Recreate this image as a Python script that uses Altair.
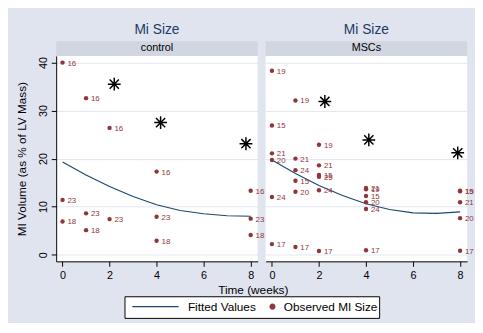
import altair as alt
import pandas as pd

# ---------------- data ----------------
ctrl_week = [0, 0, 0, 1, 1, 1, 2, 2, 4, 4, 4, 8, 8, 8]
ctrl_val = [40.0, 11.4, 6.9, 32.6, 8.6, 5.1, 26.4, 7.4, 17.3, 7.9, 2.9, 13.3, 7.5, 4.1]
ctrl_lab = [16, 23, 18, 16, 23, 18, 16, 23, 16, 23, 18, 16, 23, 18]

msc_week = [0, 0, 0, 0, 0, 0,
            1, 1, 1, 1, 1, 1,
            2, 2, 2, 2, 2, 2,
            4, 4, 4, 4, 4, 4,
            8, 8, 8, 8, 8]
msc_val = [38.3, 26.9, 21.1, 19.7, 12.0, 2.2,
           32.1, 20.0, 17.6, 15.4, 13.1, 1.6,
           22.9, 18.6, 16.6, 16.2, 13.4, 0.75,
           13.9, 13.6, 12.2, 10.9, 9.5, 0.9,
           13.3, 13.2, 10.9, 7.6, 0.8]
msc_lab = [19, 15, 21, 20, 24, 17,
           19, 21, 24, 15, 20, 17,
           19, 21, 15, 25, 24, 17,
           21, 19, 15, 20, 24, 17,
           15, 19, 21, 20, 17]

fit_week = [0, 1, 2, 3, 4, 5, 6, 7, 8]
ctrl_fit = [19.3, 16.6, 14.2, 12.1, 10.4, 9.2, 8.5, 8.1, 8.0]
msc_fit = [19.7, 16.9, 14.4, 12.3, 10.6, 9.4, 8.7, 8.6, 8.9]

ctrl_star_x = [2.2, 4.17, 7.8]
ctrl_star_y = [35.5, 27.5, 23.1]
msc_star_x = [2.25, 4.12, 7.9]
msc_star_y = [31.9, 23.9, 21.2]

series_names = ["Fitted Values", "Observed MI Size"]
panel_title = "Mi Size"
x_ticks = [0, 2, 4, 6, 8]
y_ticks = [0, 10, 20, 30, 40]

# ---------------- style ----------------
BG = "#e0e4ef"
STRIP = "#d1d6e1"
GRID = "#e1e6f0"
RED = "#90353b"
NAVY = "#1a476f"
TITLE_COL = "#1e3a66"
FONT = "Liberation Sans"
W, H = 205, 209
SH = 15  # strip height

STAR = "M0,-1L0,1M-1,0L1,0M-0.72,-0.72L0.72,0.72M-0.72,0.72L0.72,-0.72"
LEG_LINE = "M-18,0L0.8,0"   # legend key for the fitted line (symbol unit = 2.5px)

# legend frame (pixels, relative to the left plot's origin)
BOX_X, BOX_W = 70, 259
BOX_Y, BOX_H = H + 36, 22

color_scale = alt.Scale(domain=series_names, range=[NAVY, RED])
shape_scale = alt.Scale(domain=series_names, range=[LEG_LINE, "circle"])

legend = alt.Legend(
    title=None, orient="none", legendX=BOX_X + 46.5, legendY=BOX_Y + 4,
    direction="horizontal", padding=0,
    labelFontSize=12, labelFont=FONT, labelColor="black",
    symbolSize=25, symbolStrokeWidth=1.2, columnPadding=10.5, labelOffset=5.5,
    symbolOpacity=1,
)


def panel(name, weeks, vals, labs, fit, sx, sy, first):
    pts = pd.DataFrame({"week": weeks, "value": vals,
                        "label": [str(v) for v in labs],
                        "series": series_names[1]})
    fitdf = pd.DataFrame({"week": fit_week, "value": fit,
                          "series": series_names[0]})
    stars = pd.DataFrame({"week": sx, "value": sy})

    x = alt.X("week:Q", scale=alt.Scale(domain=[-0.27, 8.3], nice=False, zero=False),
              axis=alt.Axis(values=x_ticks, grid=False, title="Time (weeks)" if first else None,
                            domainColor="black", tickColor="black", tickSize=5,
                            labelFont=FONT, labelFontSize=11, labelColor="black",
                            labelPadding=3, titleFont=FONT, titleFontSize=12,
                            titleFontWeight="normal", titleColor="black",
                            titleX=200, titlePadding=5, labelFlush=False))
    if first:
        yaxis = alt.Axis(values=y_ticks, grid=True, gridColor=GRID,
                         title="MI  Volume (as % of LV Mass)",
                         domainColor="black", tickColor="black", tickSize=5,
                         labelAngle=270, labelFont=FONT, labelFontSize=11,
                         labelColor="black", labelPadding=3, labelFlush=False,
                         titleFont=FONT, titleFontSize=12, titleFontWeight="normal",
                         titleColor="black", titlePadding=9)
    else:
        yaxis = alt.Axis(values=y_ticks, grid=True, gridColor=GRID, labels=False,
                         ticks=False, domain=False, title=None)
    y = alt.Y("value:Q", scale=alt.Scale(domain=[-1.4, 41.4], nice=False, zero=False),
              axis=yaxis)

    strip_df = pd.DataFrame({"name": [name]})
    strip_bg = alt.Chart(strip_df).mark_rect(color=STRIP).encode(
        x=alt.value(0), x2=alt.value(W), y=alt.value(-SH), y2=alt.value(0))
    strip_tx = alt.Chart(strip_df).mark_text(
        fontSize=11, font=FONT, color="black", baseline="middle").encode(
        x=alt.value(W / 2), y=alt.value(-SH / 2), text="name:N")

    line = alt.Chart(fitdf).mark_line(strokeWidth=1.1).encode(
        x=x, y=y,
        color=alt.Color("series:N", scale=color_scale, legend=legend),
    )
    dots = alt.Chart(pts).mark_point(filled=True, size=20, opacity=1).encode(
        x=x, y=y,
        color=alt.Color("series:N", scale=color_scale, legend=legend),
        shape=alt.Shape("series:N", scale=shape_scale, legend=legend),
    )
    text = alt.Chart(pts).mark_text(align="left", dx=5, dy=1, fontSize=8, font=FONT,
                                    color=RED).encode(x=x, y=y, text="label:N")
    star = alt.Chart(stars).mark_point(shape=STAR, size=169, filled=False,
                                       color="black", strokeWidth=1.5, opacity=1).encode(x=x, y=y)

    layers = [strip_bg, strip_tx, line, dots, text, star]
    if first:
        frame = alt.Chart(strip_df).mark_rect(fill="white", stroke="black", strokeWidth=1).encode(
            x=alt.value(BOX_X), x2=alt.value(BOX_X + BOX_W),
            y=alt.value(BOX_Y), y2=alt.value(BOX_Y + BOX_H))
        layers = [frame] + layers

    return alt.layer(*layers).properties(
        width=W, height=H, view=alt.ViewBackground(fill="white", stroke=None),
        title=alt.TitleParams(panel_title, fontSize=14, font=FONT, fontWeight="normal",
                              color=TITLE_COL, anchor="middle", frame="group", offset=4))


left = panel("control", ctrl_week, ctrl_val, ctrl_lab, ctrl_fit, ctrl_star_x, ctrl_star_y, True)
right = panel("MSCs", msc_week, msc_val, msc_lab, msc_fit, msc_star_x, msc_star_y, False)

chart = alt.hconcat(left, right, spacing=8, bounds="flush").resolve_scale(
    color="shared", shape="shared").resolve_legend(color="shared", shape="shared").properties(
    background=BG, padding={"left": 8, "top": 13, "right": 1, "bottom": 1}
).configure_view(stroke=None)

chart.save("out.html", embed_options={"renderer": "svg", "actions": False})
